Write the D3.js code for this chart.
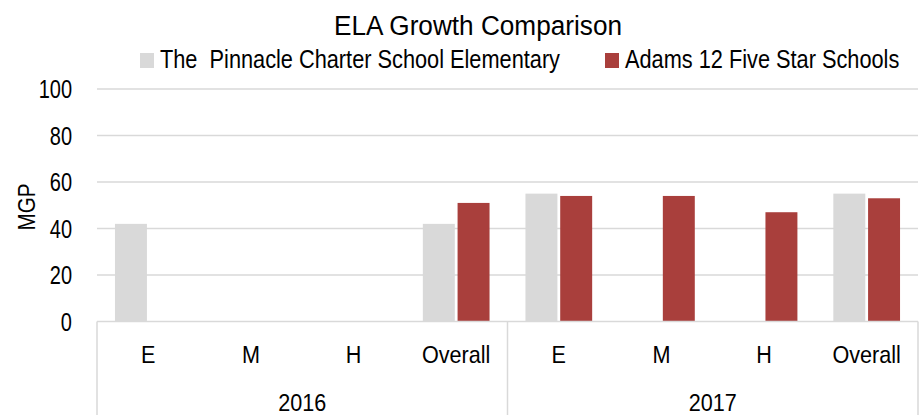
<!DOCTYPE html>
<html>
<head>
<meta charset="utf-8">
<script src="https://cdn.jsdelivr.net/npm/d3@7"></script>
<style>
  body { margin: 0; background: #fff; }
  text { font-family: "Liberation Sans", Arial, sans-serif; fill: #000; }
</style>
</head>
<body>
<svg id="chart"></svg>
<script>
// Data
const years = ["2016", "2017"];
const levels = ["E", "M", "H", "Overall"];
const seriesNames = ["The  Pinnacle Charter School Elementary", "Adams 12 Five Star Schools"];
const pinnacle = [42, null, null, 42, 55, null, null, 55];
const adams = [null, null, null, 51, 54, 54, 47, 53];
const yTicks = [0, 20, 40, 60, 80, 100];

const colors = ["#d9d9d9", "#a93f3c"];
const seriesValues = [pinnacle, adams];

// Set dimensions
const width = 922;
const height = 415;
const margin = { left: 97, right: 4, top: 89, bottom: 93.5 };

const svg = d3.select("#chart")
  .attr("width", width)
  .attr("height", height);

// narrow-looking text: position by translate, squeeze horizontally
const place = (x, y, sx) => `translate(${x}, ${y}) scale(${sx}, 1)`;

// categories as year|level keys
const cats = [];
years.forEach(y => levels.forEach(l => cats.push(y + "|" + l)));

const x = d3.scaleBand()
  .domain(cats)
  .range([margin.left, width - margin.right])
  .paddingInner(0.35)
  .paddingOuter(0.175);

const xInner = d3.scaleBand()
  .domain(seriesNames)
  .range([0, x.bandwidth()])
  .paddingInner(0.08);

const y = d3.scaleLinear()
  .domain([0, 100])
  .range([height - margin.bottom, margin.top]);

// gridlines
svg.append("g")
  .selectAll("line")
  .data(yTicks.filter(d => d > 0))
  .enter()
  .append("line")
  .attr("x1", margin.left)
  .attr("x2", width - margin.right)
  .attr("y1", d => y(d))
  .attr("y2", d => y(d))
  .attr("stroke", "#d9d9d9")
  .style("stroke-width", "1.5px");

// tick labels
svg.append("g")
  .selectAll("text")
  .data(yTicks)
  .enter()
  .append("text")
  .attr("transform", d => place(72, y(d), 0.8))
  .attr("dy", "0.36em")
  .attr("text-anchor", "end")
  .style("font-size", "25px")
  .text(d => d);

// y axis title
svg.append("text")
  .attr("transform", "translate(35, 207) rotate(-90) scale(0.86, 1)")
  .attr("text-anchor", "middle")
  .style("font-size", "24px")
  .text("MGP");

// bars
seriesNames.forEach((name, si) => {
  svg.append("g")
    .selectAll("rect")
    .data(cats.map((c, i) => ({ cat: c, value: seriesValues[si][i] })).filter(d => d.value != null))
    .enter()
    .append("rect")
    .attr("x", d => x(d.cat) + xInner(name))
    .attr("y", d => y(d.value))
    .attr("width", xInner.bandwidth())
    .attr("height", d => y(0) - y(d.value))
    .attr("fill", colors[si]);
});

// category axis
const axisG = svg.append("g");
axisG.append("line")
  .attr("x1", margin.left)
  .attr("x2", width - margin.right)
  .attr("y1", y(0))
  .attr("y2", y(0))
  .attr("stroke", "#d9d9d9")
  .style("stroke-width", "1.5px");

// group dividers
const step = x.step();
const dividers = [margin.left];
years.forEach(yr => dividers.push(x(yr + "|" + levels[levels.length - 1]) - x.paddingOuter() * step + step));
axisG.selectAll(".div")
  .data(dividers)
  .enter()
  .append("line")
  .attr("x1", d => d)
  .attr("x2", d => d)
  .attr("y1", y(0))
  .attr("y2", height)
  .attr("stroke", "#d9d9d9")
  .style("stroke-width", "1.5px");

// level labels
axisG.selectAll(".lvl")
  .data(cats)
  .enter()
  .append("text")
  .attr("transform", d => place(x(d) + x.bandwidth() / 2, 363, 0.9))
  .attr("text-anchor", "middle")
  .style("font-size", "24px")
  .text(d => d.split("|")[1]);

// year labels
axisG.selectAll(".yr")
  .data(years)
  .enter()
  .append("text")
  .attr("transform", (d, i) => place((dividers[i] + dividers[i + 1]) / 2, 411, 0.9))
  .attr("text-anchor", "middle")
  .style("font-size", "24px")
  .text(d => d);

// title
svg.append("text")
  .attr("transform", place(478, 35, 0.935))
  .attr("text-anchor", "middle")
  .style("font-size", "28px")
  .text("ELA Growth Comparison");

// legend
const legendX = [140, 605];
const legend = svg.append("g")
  .selectAll("g")
  .data(seriesNames)
  .enter()
  .append("g")
  .attr("transform", (d, i) => `translate(${legendX[i]}, 0)`);

legend.append("rect")
  .attr("x", 0)
  .attr("y", 53)
  .attr("width", 14)
  .attr("height", 15)
  .attr("fill", (d, i) => colors[i]);

legend.append("text")
  .attr("transform", place(20, 68, 0.87))
  .style("font-size", "25px")
  .style("white-space", "pre")
  .text(d => d);
</script>
</body>
</html>
